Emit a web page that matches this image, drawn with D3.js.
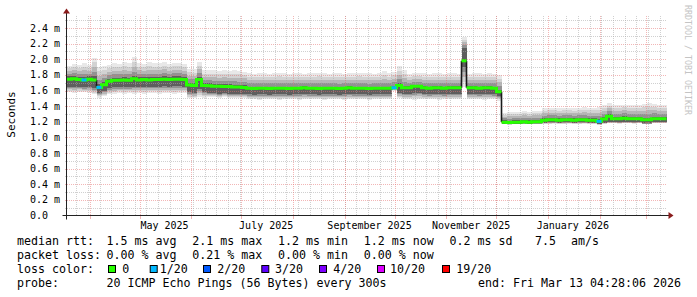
<!DOCTYPE html>
<html><head><meta charset="utf-8">
<script src="https://cdn.jsdelivr.net/npm/d3@7"></script>
<style>html,body{margin:0;padding:0;background:#fff}svg{display:block}</style>
</head><body>
<svg id="chart" width="697" height="297"></svg>
<script>
// ---------------- DATA ----------------
const endTimeUTC = "2026-03-13T04:28:06Z";
const spanDays = 360;
const bucketDays = 3;

// median RTT per 3-day bucket (ms)
const medianMs = [
1.745,1.75,1.74,1.735,1.745, 1.735,1.64,1.675,1.72,
1.73,1.73,1.735,1.73, 1.75,
1.735,1.74,1.735,1.74,1.74,1.745,1.74,1.745,1.745,1.74,
1.67,1.665,1.74,1.665,
1.66,1.655,1.655,1.65,1.65,1.645,1.645,1.64,
1.63,1.625,1.63,1.63,1.625,1.63,1.63,1.63,1.625,1.63,1.63,1.635,1.63,1.63,1.625,1.63,1.63,1.63,1.625,1.63,1.635,1.63,1.63,1.63,1.625,1.63,1.63,1.63,1.63,
1.635,1.665,1.635,1.635,1.655,1.655,
1.635,1.63,1.635,1.635,1.63,1.635,1.635,1.635,
1.98,
1.635,1.635,1.63,1.635,1.635,1.63,
1.585,
1.195,1.19,1.195,1.195,1.2,1.195,1.2,1.2,
1.22,1.225,1.225,1.22,1.225,1.225,1.22,1.225,1.225,1.22,1.22,
1.205,1.235,1.27,
1.24,1.24,1.245,1.24,1.24,1.24,1.225,1.225,1.24,1.24,1.24
];
// highest ping per bucket (ms)
const smokeHiMs = [
1.92,1.94,1.93,1.95,1.93, 2.02,1.9,1.92,1.93,
1.95,1.94,1.96,1.95, 2.03,
1.95,1.94,1.96,1.95,1.95,1.96,1.94,1.95,1.95,1.94,
1.88,1.87,1.97,1.86,
1.86,1.86,1.85,1.86,1.85,1.86,1.85,1.84,
1.82,1.81,1.82,1.82,1.81,1.82,1.83,1.82,1.81,1.82,1.82,1.81,1.82,1.82,1.83,1.82,1.81,1.82,1.82,1.81,1.82,1.82,1.83,1.82,1.82,1.81,1.82,1.85,1.82,
1.84,1.91,1.86,1.81,1.82,1.83,
1.82,1.81,1.82,1.82,1.81,1.82,1.82,1.81,
2.28,
1.81,1.82,1.82,1.81,1.82,1.81,
1.8,
1.31,1.32,1.33,1.33,1.34,1.33,1.34,1.34,
1.37,1.38,1.38,1.37,1.38,1.38,1.37,1.38,1.39,1.38,1.38,
1.39,1.42,1.44,
1.41,1.41,1.42,1.41,1.42,1.42,1.43,1.44,1.43,1.42,1.42
];
// lowest ping per bucket (ms)
const smokeLoMs = [
1.58,1.57,1.58,1.58,1.57, 1.55,1.51,1.53,1.55,
1.56,1.57,1.56,1.57, 1.56,
1.57,1.56,1.57,1.57,1.56,1.57,1.57,1.56,1.57,1.57,
1.5,1.5,1.52,1.51,
1.52,1.52,1.51,1.52,1.51,1.51,1.5,1.5,
1.49,1.49,1.48,1.49,1.49,1.49,1.48,1.49,1.49,1.49,1.48,1.49,1.49,1.49,1.49,1.48,1.49,1.49,1.49,1.48,1.49,1.49,1.49,1.49,1.48,1.49,1.49,1.49,1.49,
1.6,1.5,1.49,1.49,1.48,1.49,
1.49,1.49,1.49,1.48,1.49,1.49,1.49,1.49,
1.64,
1.49,1.49,1.49,1.48,1.49,1.49,
1.47,
1.165,1.16,1.165,1.165,1.17,1.165,1.17,1.17,
1.17,1.17,1.175,1.17,1.17,1.175,1.17,1.17,1.175,1.17,1.17,
1.16,1.17,1.18,
1.18,1.175,1.18,1.18,1.175,1.18,1.17,1.17,1.18,1.18,1.18
];
// dense core of the ping distribution (ms)
const coreHiMs = [
1.78,1.78,1.77,1.77,1.78, 1.78,1.68,1.71,1.75,
1.76,1.76,1.77,1.76, 1.78,
1.77,1.77,1.77,1.77,1.77,1.78,1.77,1.78,1.78,1.77,
1.7,1.7,1.77,1.69,
1.69,1.68,1.68,1.68,1.68,1.67,1.67,1.67,
1.65,1.65,1.65,1.65,1.65,1.65,1.65,1.65,1.65,1.65,1.65,1.655,1.65,1.65,1.645,1.65,1.65,1.65,1.645,1.65,1.655,1.65,1.65,1.65,1.645,1.65,1.65,1.65,1.65,
1.66,1.69,1.655,1.655,1.675,1.675,
1.655,1.65,1.655,1.655,1.65,1.655,1.655,1.655,
2.15,
1.655,1.655,1.65,1.655,1.655,1.65,
1.61,
1.22,1.215,1.22,1.22,1.225,1.22,1.225,1.225,
1.245,1.25,1.25,1.245,1.25,1.25,1.245,1.25,1.25,1.245,1.245,
1.23,1.26,1.3,
1.265,1.265,1.27,1.265,1.265,1.265,1.25,1.25,1.265,1.265,1.265
];
const coreLoMs = [
1.65,1.65,1.65,1.64,1.65, 1.63,1.57,1.59,1.63,
1.64,1.64,1.645,1.64, 1.65,
1.645,1.65,1.645,1.65,1.65,1.655,1.65,1.655,1.655,1.65,
1.58,1.57,1.62,1.58,
1.57,1.57,1.56,1.57,1.56,1.56,1.56,1.55,
1.55,1.545,1.55,1.55,1.545,1.55,1.55,1.55,1.545,1.55,1.55,1.555,1.55,1.55,1.545,1.55,1.55,1.55,1.545,1.55,1.555,1.55,1.55,1.55,1.545,1.55,1.55,1.55,1.55,
1.62,1.57,1.555,1.555,1.57,1.57,
1.555,1.55,1.555,1.555,1.55,1.555,1.555,1.555,
1.9,
1.555,1.555,1.55,1.555,1.555,1.55,
1.53,
1.175,1.17,1.175,1.175,1.18,1.175,1.18,1.18,
1.19,1.195,1.195,1.19,1.195,1.195,1.19,1.195,1.195,1.19,1.19,
1.175,1.19,1.2,
1.195,1.195,1.2,1.195,1.195,1.195,1.18,1.18,1.195,1.195,1.195
];
// buckets with packet loss (bucket index, lost pings)
const lossBuckets = [3, 6, 65, 106];
const lossCounts  = [1, 1, 1, 1];

const yTickValues = [0,0.2,0.4,0.6,0.8,1.0,1.2,1.4,1.6,1.8,2.0,2.2,2.4];
const yTickLabels = ["0.0","0.2 m","0.4 m","0.6 m","0.8 m","1.0 m","1.2 m","1.4 m","1.6 m","1.8 m","2.0 m","2.2 m","2.4 m"];
const xLabelMonths = ["2025-05-01","2025-07-01","2025-09-01","2025-11-01","2026-01-01"];
const xLabelTexts  = ["May 2025","July 2025","September 2025","November 2025","January 2026"];

const lossLevelCounts = [0,1,2,3,4,10,19];
const lossLevelNames  = ["0","1/20","2/20","3/20","4/20","10/20","19/20"];
const lossLevelColors = ["#26ff00","#00b8ff","#0059ff","#5e00ff","#7e00ff","#dd00ff","#ff0000"];

const rttStats  = ["1.5 ms avg","2.1 ms max","1.2 ms min","1.2 ms now","0.2 ms sd","7.5"];
const lossStats = ["0.00 % avg","0.21 % max","0.00 % min","0.00 % now"];
const probeText = "20 ICMP Echo Pings (56 Bytes) every 300s";
const endText   = "end: Fri Mar 13 04:28:06 2026";

// ---------------- LAYOUT ----------------
const FONT = "'DejaVu Sans Mono', 'Liberation Mono', monospace";
const X0 = 66.5, X1 = 666.5, Y0 = 215.5, Y1 = 15.5;
const DAY = 864e5;
const endT = new Date(endTimeUTC).getTime();
const startT = endT - spanDays * DAY;

const svg = d3.select("#chart");
const x = d3.scaleUtc().domain([new Date(startT), new Date(endT)]).range([X0, X1]);
const y = d3.scaleLinear().domain([0, 2.56]).range([Y0, Y1]);
const bt = i => new Date(startT + i * bucketDays * DAY);
const bx = i => x(bt(i));

svg.append("rect").attr("width", 697).attr("height", 297).attr("fill", "#fff");

// ---------------- SMOKE ----------------
const layerColors = ["#e8e8e8", "#d2d2d2", "#b6b6b6", "#929292", "#5e5e5e"];
const smokeG = svg.append("g").attr("shape-rendering", "crispEdges");
layerColors.forEach((col, k) => {
  const t = k / (layerColors.length - 1);
  smokeG.append("g").selectAll("rect")
    .data(medianMs.map((m, i) => i))
    .join("rect")
    .attr("x", i => bx(i))
    .attr("width", i => bx(i + 1) - bx(i))
    .attr("y", i => y(smokeHiMs[i] + (coreHiMs[i] - smokeHiMs[i]) * t))
    .attr("height", i => y(smokeLoMs[i] + (coreLoMs[i] - smokeLoMs[i]) * t) - y(smokeHiMs[i] + (coreHiMs[i] - smokeHiMs[i]) * t))
    .attr("fill", col);
});

// ---------------- GRID ----------------
const gridG = svg.append("g").attr("shape-rendering", "crispEdges");
const minorCol = "rgba(170,170,170,0.55)", majorCol = "rgba(230,110,110,0.5)";
d3.range(1, 26).forEach(k => {
  const v = k / 10;
  const yy = Math.round(y(v)) + 0.5;
  const major = k % 2 === 0;
  gridG.append("line").attr("x1", X0).attr("x2", X1).attr("y1", yy).attr("y2", yy)
    .attr("stroke", major ? majorCol : minorCol).attr("stroke-width", 1)
    .attr("stroke-dasharray", "1,1");
  gridG.append("line").attr("x1", X0 - 2).attr("x2", X0).attr("y1", yy).attr("y2", yy)
    .attr("stroke", major ? majorCol : minorCol);
});
d3.utcMonday.range(new Date(startT), new Date(endT)).forEach(d => {
  const xx = Math.round(x(d)) + 0.5;
  gridG.append("line").attr("x1", xx).attr("x2", xx).attr("y1", Y1).attr("y2", Y0)
    .attr("stroke", minorCol).attr("stroke-dasharray", "1,1");
});
d3.utcMonth.range(new Date(startT), new Date(endT)).forEach(d => {
  const xx = Math.round(x(d)) + 0.5;
  gridG.append("line").attr("x1", xx).attr("x2", xx).attr("y1", Y1).attr("y2", Y0)
    .attr("stroke", majorCol).attr("stroke-dasharray", "1,1");
  gridG.append("line").attr("x1", xx).attr("x2", xx).attr("y1", Y0).attr("y2", Y0 + 3)
    .attr("stroke", majorCol);
});

// ---------------- MEDIAN LINE ----------------
const lossColorOf = c => lossLevelColors[lossLevelCounts.indexOf(c)];
const runs = []; let cur = [0]; const jumps = [];
for (let i = 1; i < medianMs.length; i++) {
  if (Math.abs(y(medianMs[i]) - y(medianMs[i - 1])) > 6) { runs.push(cur); cur = []; jumps.push(i); }
  cur.push(i);
}
runs.push(cur);
const stepLine = d3.line().x(d => d[0]).y(d => d[1]).curve(d3.curveStepAfter);
const medG = svg.append("g");
jumps.forEach(i => {
  medG.append("line").attr("x1", bx(i)).attr("x2", bx(i))
    .attr("y1", y(medianMs[i - 1])).attr("y2", y(medianMs[i]))
    .attr("stroke", "#1a1a1a").attr("stroke-width", 1.6);
});
runs.forEach(r => {
  const pts = r.map(i => [bx(i), y(medianMs[i])]);
  const last = r[r.length - 1];
  pts.push([bx(last + 1), y(medianMs[last])]);
  medG.append("path").attr("d", stepLine(pts)).attr("fill", "none")
    .attr("stroke", lossLevelColors[0]).attr("stroke-width", 3);
});
lossBuckets.forEach((b, j) => {
  medG.append("line").attr("x1", bx(b)).attr("x2", bx(b + 1))
    .attr("y1", y(medianMs[b])).attr("y2", y(medianMs[b]))
    .attr("stroke", lossColorOf(lossCounts[j])).attr("stroke-width", 3);
});

// ---------------- AXES ----------------
const axisCol = "#222", arrowCol = "#8a1c1c";
svg.append("line").attr("x1", X0 - 4).attr("x2", X1 + 4).attr("y1", Y0).attr("y2", Y0).attr("stroke", axisCol);
svg.append("line").attr("x1", X0).attr("x2", X0).attr("y1", Y0 + 4).attr("y2", Y1 - 4).attr("stroke", axisCol);
svg.append("path").attr("d", `M${X1 + 2},${Y0 - 3.5} L${X1 + 2},${Y0 + 3.5} L${X1 + 7},${Y0} Z`).attr("fill", arrowCol);
svg.append("path").attr("d", `M${X0 - 3.5},${Y1 - 2} L${X0 + 3.5},${Y1 - 2} L${X0},${Y1 - 7} Z`).attr("fill", arrowCol);

svg.append("g").selectAll("text").data(yTickValues).join("text")
  .attr("x", 30).attr("y", v => y(v) + 3.6)
  .attr("font-family", FONT).attr("font-size", 10).attr("fill", "#000")
  .text((v, i) => yTickLabels[i]);

svg.append("g").selectAll("text").data(xLabelMonths).join("text")
  .attr("x", d => x(new Date(new Date(d + "T00:00:00Z").getTime() + 15 * DAY)))
  .attr("y", 228.5).attr("text-anchor", "middle")
  .attr("font-family", FONT).attr("font-size", 10).attr("fill", "#000")
  .text((d, i) => xLabelTexts[i]);

svg.append("text").attr("transform", "translate(14.5,114.5) rotate(-90)")
  .attr("text-anchor", "middle").attr("font-family", FONT).attr("font-size", 11)
  .attr("fill", "#000").text("Seconds");

svg.append("text").attr("transform", "translate(684.5,5) rotate(90)")
  .attr("font-family", FONT).attr("font-size", 8.3).attr("fill", "#c4c4c4")
  .text("RRDTOOL / TOBI OETIKER");

// ---------------- LEGEND ----------------
const LF = 11.63;
const lg = svg.append("g").attr("font-family", FONT).attr("font-size", LF).attr("fill", "#000")
  .attr("xml:space", "preserve");
const rowY = [244.9, 258.9, 272.9, 286.9];
const statX = [106.5, 192.2, 278, 363.8, 449.6, 535];
lg.append("text").attr("x", 17).attr("y", rowY[0]).text("median rtt:");
rttStats.forEach((s, i) => lg.append("text").attr("x", statX[i]).attr("y", rowY[0]).text(s));
lg.append("text").attr("x", 571).attr("y", rowY[0]).text("am/s");
lg.append("text").attr("x", 17).attr("y", rowY[1]).text("packet loss:");
lossStats.forEach((s, i) => lg.append("text").attr("x", statX[i]).attr("y", rowY[1]).text(s));
lg.append("text").attr("x", 17).attr("y", rowY[2]).text("loss color:");
const boxX = [108, 149.7, 203, 261.3, 319, 377, 442];
const labX = [122.3, 159.7, 217.3, 275, 333.3, 390, 456.3];
lossLevelNames.forEach((n, i) => {
  lg.append("rect").attr("x", boxX[i] + 0.5).attr("y", 265.5).attr("width", 7).attr("height", 7)
    .attr("fill", lossLevelColors[i]).attr("stroke", "#000").attr("stroke-width", 1);
  lg.append("text").attr("x", labX[i]).attr("y", rowY[2]).text(n);
});
lg.append("text").attr("x", 17).attr("y", rowY[3]).text("probe:");
lg.append("text").attr("x", 106.5).attr("y", rowY[3]).text(probeText);
lg.append("text").attr("x", 681).attr("y", rowY[3]).attr("text-anchor", "end").text(endText);
</script>
</body></html>
